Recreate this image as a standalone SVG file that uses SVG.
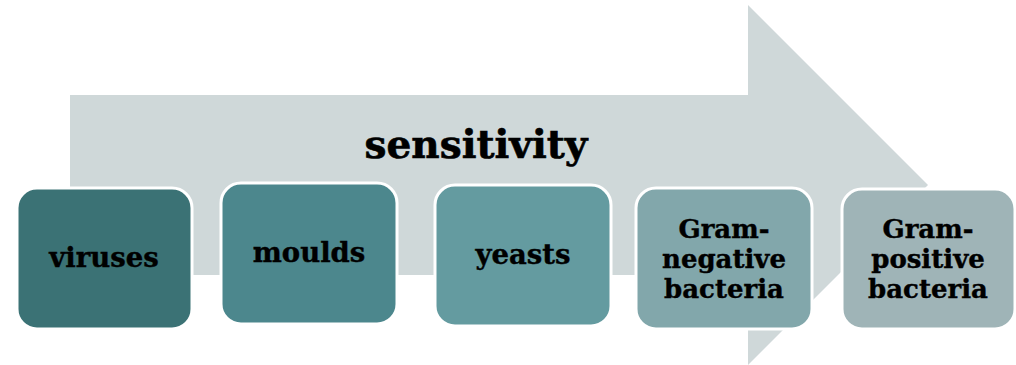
<svg xmlns="http://www.w3.org/2000/svg" width="1016" height="365" viewBox="0 0 1016 365">
<style>
.box{stroke:#ffffff;stroke-width:3}
.t{font-family:"DejaVu Serif","Liberation Serif",serif;font-weight:bold;font-size:26px;fill:#000;text-anchor:middle;stroke:#000;stroke-width:0.4}
.m{font-size:27.5px}
.big{font-size:39px;stroke-width:0.6}
</style>
<rect width="1016" height="365" fill="#ffffff"/>
<g id="connectors">
<path id="arrow" d="M70,95 H748 V5 L928,185 L748,365 V275 H70 Z" fill="#cfd8d9"/>
</g>
<text class="t big" x="476" y="158">sensitivity</text>
<g id="viruses">
<rect class="box" x="17" y="188" width="175" height="141" rx="20" fill="#3b7275"/>
<text class="t m" x="104" y="267">viruses</text>
</g>
<g id="moulds">
<rect class="box" x="221" y="183" width="176" height="141" rx="20" fill="#4c878d"/>
<text class="t m" x="309" y="262">moulds</text>
</g>
<g id="yeasts">
<rect class="box" x="435" y="185" width="176" height="141" rx="20" fill="#649ba0"/>
<text class="t m" x="523" y="264">yeasts</text>
</g>
<g id="gram-negative">
<rect class="box" x="636" y="188" width="176" height="141" rx="20" fill="#82a7ab"/>
<text class="t" x="724" y="238">Gram-</text>
<text class="t" x="724" y="268">negative</text>
<text class="t" x="724" y="298">bacteria</text>
</g>
<g id="gram-positive">
<rect class="box" x="842" y="189" width="173" height="140" rx="20" fill="#9fb4b7"/>
<text class="t" x="928" y="238">Gram-</text>
<text class="t" x="928" y="268">positive</text>
<text class="t" x="928" y="298">bacteria</text>
</g>
</svg>
